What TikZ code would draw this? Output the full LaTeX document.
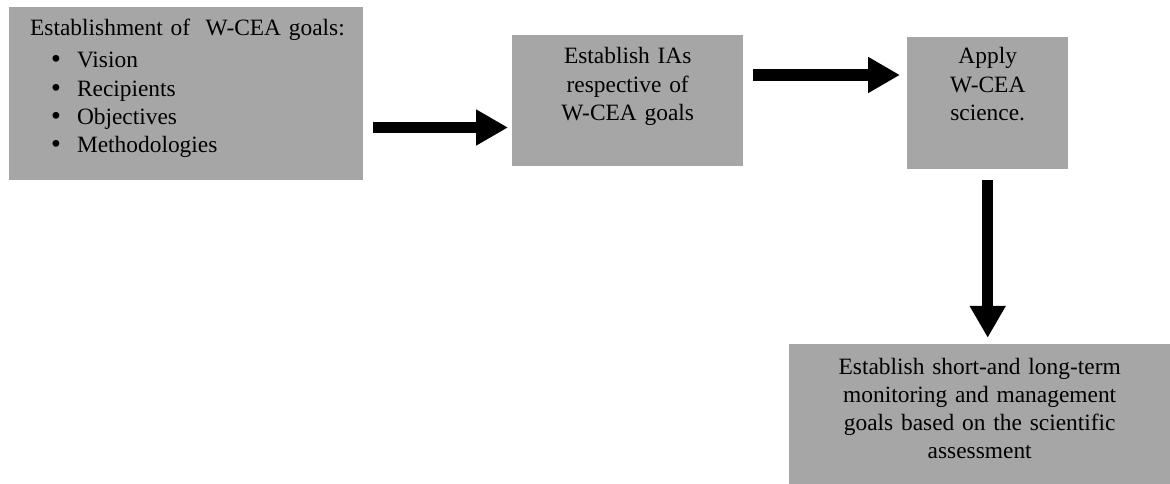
\documentclass[tikz,border=0pt]{standalone}
\usepackage{fontspec}
\setmainfont{Liberation Serif}
\newfontfamily\bulletfont{DejaVu Sans}
\usetikzlibrary{arrows.meta}
\definecolor{boxgray}{RGB}{166,166,166}
\newcommand{\goalitem}{\hspace*{19pt}{\bulletfont\symbol{"2022}}\hspace{14pt}}

\begin{document}
\begin{tikzpicture}[x=1pt, y=-1pt,
    stage/.style={fill=boxgray, inner xsep=0pt, inner ysep=0pt, align=center, anchor=base west, font=\fontsize{23.4}{28.3}\selectfont},
    flow/.style={line width=11.5pt, -{Triangle[length=32pt, width=34pt]}}]
  \useasboundingbox (0,0) rectangle (1170,484);

  \node[stage, align=left, inner xsep=21pt, text width=312pt, text height=29pt, text depth=144pt] (goals) at (9,36)
    {\mbox{Establishment of\ \ W-CEA goals:}\\[3.7pt]
     \goalitem Vision\\
     \goalitem Recipients\\
     \goalitem Objectives\\
     \goalitem Methodologies};
  \node[stage, text width=231pt, text height=29pt, text depth=102pt] (ias) at (512,64)
    {Establish IAs\\ respective of\\ W-CEA goals};
  \node[stage, text width=161pt, text height=27pt, text depth=105pt] (science) at (907,64)
    {Apply\\ W-CEA\\ science.};
  \node[stage, text width=381pt, text height=30pt, text depth=110pt] (monitor) at (789,374)
    {Establish short-and long-term\\ monitoring and management\\ goals based on the scientific\\ assessment};

  \draw[flow] ([xshift=10pt]goals.east |- 0,127.5) -- ([xshift=-4pt]ias.west |- 0,127.5);
  \draw[flow] ([xshift=10pt]ias.east |- 0,75) -- ([xshift=-7pt]science.west |- 0,75);
  \draw[flow] ([yshift=-11pt]science.south) -- ([yshift=6pt]monitor.north -| science.south);
\end{tikzpicture}
\end{document}
